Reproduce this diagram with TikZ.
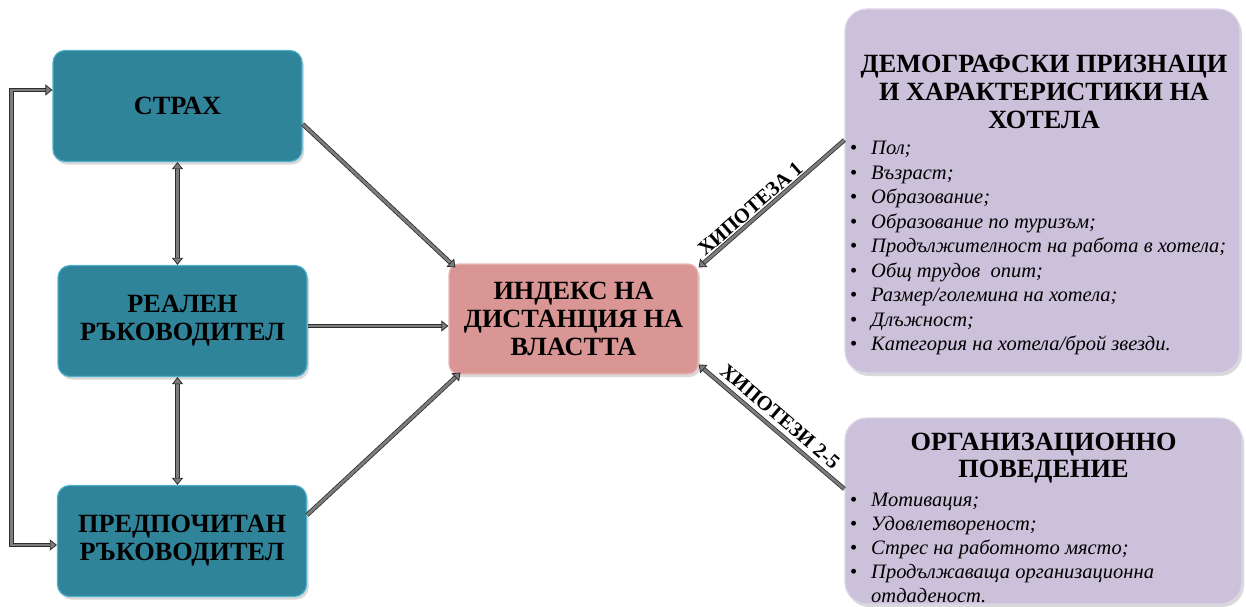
\documentclass[tikz,border=0pt]{standalone}
\usepackage{fontspec}
\setmainfont{Liberation Serif}
\usetikzlibrary{arrows.meta,shadows,calc}
\definecolor{tealbox}{RGB}{48,132,153}
\definecolor{tealedge}{RGB}{78,176,202}
\definecolor{pinkbox}{RGB}{217,150,148}
\definecolor{pinkedge}{RGB}{232,184,182}
\definecolor{lilac}{RGB}{204,193,218}
\definecolor{lilacedge}{RGB}{220,212,232}
\definecolor{arrgray}{RGB}{125,125,125}
\definecolor{arrdark}{RGB}{45,45,45}
\newcommand{\bitem}[1]{\makebox[21pt][l]{\textbullet}\textit{#1}}
\begin{document}
\begin{tikzpicture}[x=1pt,y=-1pt,
  >={Triangle[length=7pt,width=11pt,line width=0.8pt,fill=arrgray]},
  box/.style={rectangle, inner sep=0pt, align=center,
    drop shadow={opacity=0.3, shadow xshift=2pt, shadow yshift=-3pt}},
  tealb/.style={box, rounded corners=12pt, fill=tealbox, draw=tealedge, line width=1.2pt,
    minimum width=249pt, minimum height=111pt,
    font=\fontsize{26.3}{28}\selectfont\bfseries},
  pinkb/.style={box, rounded corners=10pt, fill=pinkbox, draw=pinkedge, line width=1.2pt,
    minimum width=249pt, minimum height=110pt,
    font=\fontsize{26.3}{28}\selectfont\bfseries},
  lilacb/.style={box, rounded corners=22pt, fill=lilac, draw=lilacedge, line width=1.2pt},
  ttl/.style={align=center, inner sep=0pt, font=\fontsize{26.3}{28.3}\selectfont\bfseries},
  lst/.style={align=left, inner sep=0pt, font=\fontsize{20.5}{24.5}\selectfont},
  arr/.style={draw=arrdark, line width=0.8pt, double=arrgray, double distance=2.8pt, ->},
  lab/.style={sloped, inner sep=1pt, font=\fontsize{20.5}{22}\selectfont\bfseries}
]
\useasboundingbox (0,0) rectangle (1246,606);

% left column
\node[tealb] (strah) at (177.5,106) {СТРАХ};
\node[tealb] (real) at (182.5,321) {РЕАЛЕН\\РЪКОВОДИТЕЛ};
\node[tealb] (pref) at (182,541) {ПРЕДПОЧИТАН\\РЪКОВОДИТЕЛ};

% centre
\node[pinkb] (idx) at (573.5,319) {ИНДЕКС НА\\ДИСТАНЦИЯ НА\\ВЛАСТТА};

% right boxes
\node[lilacb, minimum width=395pt, minimum height=364pt] (demo) at (1042.5,191) {};
\node[ttl] (demot) at (1044,92) {ДЕМОГРАФСКИ ПРИЗНАЦИ\\И ХАРАКТЕРИСТИКИ НА\\ХОТЕЛА};
\node[lst, anchor=north west] (demol) at (850,141) {%
\bitem{Пол;}\\
\bitem{Възраст;}\\
\bitem{Образование;}\\
\bitem{Образование по туризъм;}\\
\bitem{Продължителност на работа в хотела;}\\
\bitem{Общ трудов \ опит;}\\
\bitem{Размер/големина на хотела;}\\
\bitem{Длъжност;}\\
\bitem{Категория на хотела/брой звезди.}};

\node[lilacb, minimum width=397pt, minimum height=186pt] (org) at (1043.5,511) {};
\node[ttl, font=\fontsize{26.3}{27}\selectfont\bfseries] (orgt) at (1043.5,458) {ОРГАНИЗАЦИОННО\\ПОВЕДЕНИЕ};
\node[lst, anchor=north west, font=\fontsize{20.5}{24}\selectfont] (orgl) at (850,493) {%
\bitem{Мотивация;}\\
\bitem{Удовлетвореност;}\\
\bitem{Стрес на работното място;}\\
\bitem{Продължаваща организационна}\\
\makebox[21pt][l]{}\textit{отдаденост.}};

% connectors
\draw[arr] ([yshift=-18pt]strah.east) -- ([shift={(7pt,-4pt)}]idx.north west);
\draw[arr] ([yshift=-5pt]real.east) -- ([yshift=-5pt]real.east -| idx.west);
\draw[arr] ([yshift=26pt]pref.east) -- ([shift={(12pt,2pt)}]idx.south west);
\draw[arr, <->] (strah.south) -- (strah.south |- real.north);
\draw[arr, <->] (strah.south |- real.south) -- (strah.south |- pref.north);
\draw[arr, <->] ([yshift=16pt]strah.west) -- ++(-41pt,0) |- ([yshift=-4pt]pref.west);
\draw[arr] ([yshift=51pt]demo.west) -- node[lab, pos=0.6, above=2pt] {ХИПОТЕЗА 1} ([yshift=-4pt]idx.north east);
\draw[arr] ([yshift=22pt]org.west) -- node[lab, pos=0.5, above=5pt] {ХИПОТЕЗИ 2-5} ([yshift=10pt]idx.south east);
\end{tikzpicture}
\end{document}
